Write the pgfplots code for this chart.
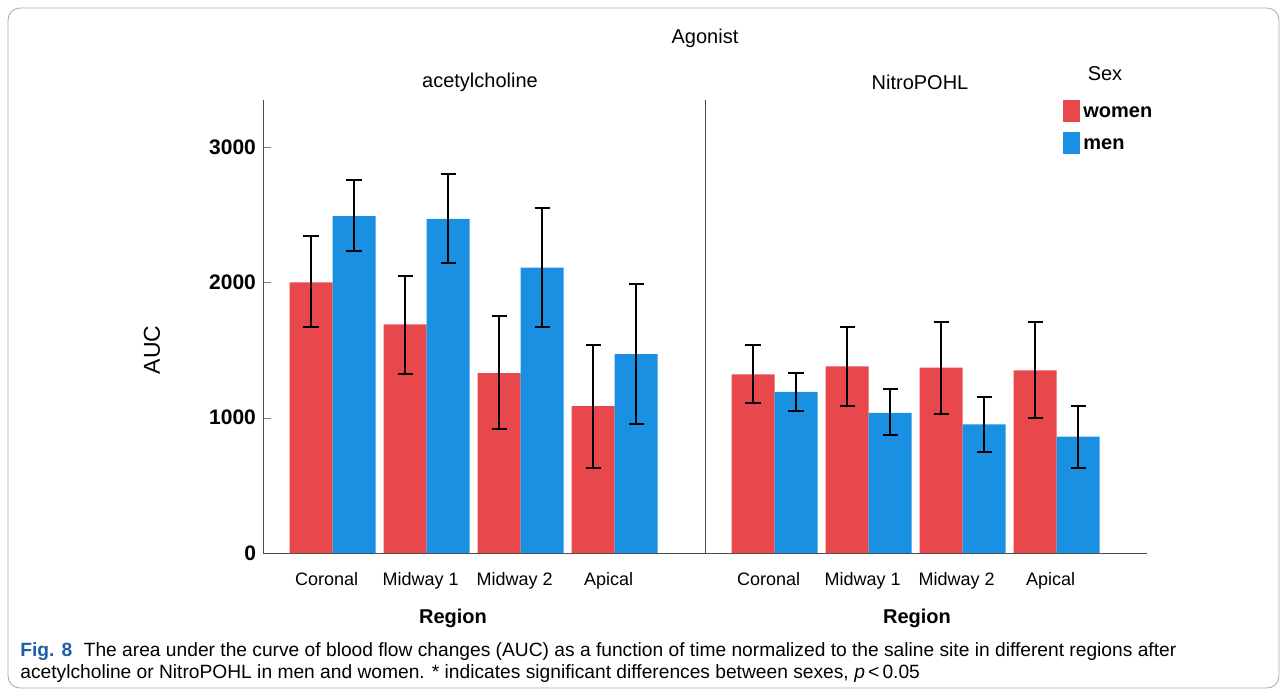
\documentclass[border=0pt]{standalone}
\usepackage{pgfplots}
\pgfplotsset{compat=1.18}
\usepackage{fontspec}
\setmainfont{Liberation Sans}
\definecolor{wred}{HTML}{E8484B}
\definecolor{mblue}{HTML}{1A90E3}
\definecolor{figblue}{HTML}{1F5FA8}
\begin{document}
\begin{tikzpicture}
\path (0,0) rectangle (643.5pt,-348.5pt);
\draw[gray!70,rounded corners=6pt] (4pt,-4pt) rectangle (639.5pt,-344pt);
\pgfplotsset{base/.style={
  scale only axis, width=221pt, height=226.5pt, anchor=south west,
  ymin=0, ymax=3348, xmin=-0.74, xmax=3.96,
  ybar=0pt, bar width=21.5pt,
  axis x line*=bottom, axis line style={gray!60!black, line width=0.4pt},
  xtick={0,1,2,3}, xticklabels={Coronal,Midway 1,Midway 2,Apical},
  major tick length=4pt, xtick style={draw=none},
  xticklabel style={font=\fontsize{9}{10}\selectfont, yshift=-2pt, xshift=-3pt},
  error bars/y dir=both, error bars/y explicit,
  error bars/error bar style={line width=1pt,black},
  error bars/error mark options={rotate=90,mark size=3.8pt,line width=1pt,black},
  }}
\begin{axis}[base, at={(131.5pt,-276.5pt)},
  axis y line*=left, ytick={0,1000,2000,3000},
  yticklabel style={font=\bfseries\fontsize{10.5}{12}\selectfont},
  /pgf/number format/assume math mode=true,
  /pgf/number format/1000 sep={}, ytick style={draw=gray}]
\addplot[fill=wred, draw=none] coordinates {
 (0,2000) += (0,340) -= (0,330)
 (1,1690) += (0,360) -= (0,370)
 (2,1330) += (0,420) -= (0,415)
 (3,1085) += (0,455) -= (0,455)};
\addplot[fill=mblue, draw=none] coordinates {
 (0,2490) += (0,270) -= (0,260)
 (1,2470) += (0,330) -= (0,330)
 (2,2110) += (0,440) -= (0,440)
 (3,1470) += (0,520) -= (0,520)};
\end{axis}
\begin{axis}[base, at={(352.5pt,-276.5pt)},
  axis y line*=left, ytick=\empty]
\addplot[fill=wred, draw=none] coordinates {
 (0,1320) += (0,220) -= (0,210)
 (1,1380) += (0,290) -= (0,290)
 (2,1370) += (0,340) -= (0,340)
 (3,1350) += (0,360) -= (0,350)};
\addplot[fill=mblue, draw=none] coordinates {
 (0,1190) += (0,140) -= (0,140)
 (1,1035) += (0,175) -= (0,165)
 (2,950) += (0,200) -= (0,200)
 (3,860) += (0,225) -= (0,230)};
\end{axis}
\node[font=\fontsize{10}{12}\selectfont] at (352.5pt,-19pt) {Agonist};
\node[font=\fontsize{10}{12}\selectfont] at (240pt,-41pt) {acetylcholine};
\node[font=\fontsize{10}{12}\selectfont] at (460pt,-41pt) {NitroPOHL};
\node[font=\fontsize{11.5}{13}\selectfont,rotate=90] at (76pt,-175pt) {AUC};
\node[font=\bfseries\fontsize{10}{12}\selectfont] at (226.5pt,-309pt) {Region};
\node[font=\bfseries\fontsize{10}{12}\selectfont] at (458.5pt,-309pt) {Region};
\node[font=\fontsize{10}{12}\selectfont] at (552.5pt,-37pt) {Sex};
\fill[wred] (531.5pt,-50pt) rectangle (540pt,-61pt);
\fill[mblue] (531.5pt,-66pt) rectangle (540pt,-77pt);
\node[anchor=west,font=\bfseries\fontsize{10}{12}\selectfont,inner sep=1pt] at (540.5pt,-56pt) {women};
\node[anchor=west,font=\bfseries\fontsize{10}{12}\selectfont,inner sep=1pt] at (540.5pt,-72pt) {men};
\node[anchor=west,font=\fontsize{9.6}{11}\selectfont,inner sep=0pt] at (10pt,-326pt) {\textcolor{figblue}{\textbf{Fig. 8}}\hspace{0.6em}The area under the curve of blood flow changes (AUC) as a function of time normalized to the saline site in different regions after};
\node[anchor=west,font=\fontsize{9.6}{11}\selectfont,inner sep=0pt] at (10pt,-337pt) {acetylcholine or NitroPOHL in men and women. * indicates significant differences between sexes, \textit{p}\,<\,0.05};
\end{tikzpicture}
\end{document}
